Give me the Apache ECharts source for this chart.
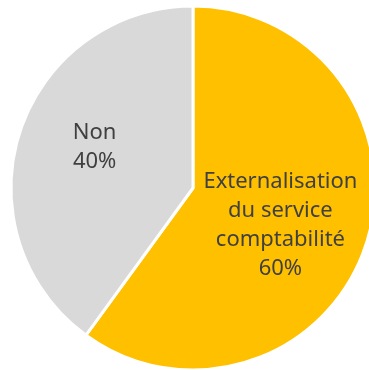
<!DOCTYPE html>
<html>
<head>
<meta charset="utf-8">
<script src="https://cdn.jsdelivr.net/npm/echarts@6/dist/echarts.min.js"></script>
<style>
  html, body { margin: 0; padding: 0; background: #fff; }
  #chart { width: 369px; height: 370px; }
</style>
</head>
<body>
<div id="chart"></div>
<script>
const categories = ["Externalisation\ndu service\ncomptabilité", "Non"];
const values = [60, 40];
const colors = ["#FFC000", "#D9D9D9"];

const chart = echarts.init(document.getElementById("chart"), null, { renderer: "canvas" });

const data = categories.map((name, i) => ({
    name,
    value: values[i],
    itemStyle: { color: colors[i] },
    label: i === 1 ? { offset: [-9, -12] } : { offset: [-2, 8] },
}));

chart.setOption({
    animation: false,
    backgroundColor: "#ffffff",
    series: [
        {
            type: "pie",
            center: [193, 188],
            radius: 182,
            startAngle: 90,
            clockwise: true,
            avoidLabelOverlap: false,
            itemStyle: {
                borderColor: "#ffffff",
                borderWidth: 3,
            },
            label: {
                show: true,
                position: "inside",
                formatter: "{b}\n{c}%",
                color: "#404040",
                fontFamily: "Noto Sans",
                fontSize: 22,
                lineHeight: 29,
                align: "center",
            },
            labelLine: { show: false },
            emphasis: { disabled: true },
            data,
        },
    ],
});

window.addEventListener("resize", () => chart.resize());
</script>
</body>
</html>
